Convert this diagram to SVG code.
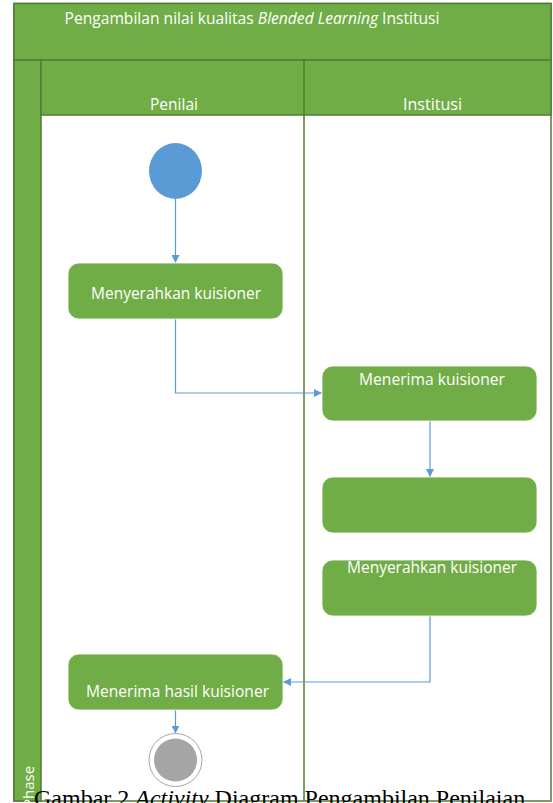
<svg xmlns="http://www.w3.org/2000/svg" width="553" height="803" viewBox="0 0 553 803">
<defs>
<style>
.band{fill:#70AD47;stroke:#507E32;stroke-width:1.5}
.lane{fill:#FFFFFF;stroke:#507E32;stroke-width:1.5}
.act{fill:#70AD47;stroke:#FFFFFF;stroke-width:0.8}
.lbl{font-family:"Open Sans","Liberation Sans",sans-serif;font-size:15.5px;fill:#FFFFFF;text-anchor:middle}
.conn{fill:none;stroke:#5B9BD5;stroke-width:1.2}
</style>
<marker id="arr" viewBox="0 0 10 10" refX="10" refY="5" markerWidth="8" markerHeight="8" markerUnits="userSpaceOnUse" orient="auto">
<path d="M0,0 L10,5 L0,10 Z" fill="#5B9BD5"/>
</marker>
</defs>
<rect width="553" height="803" fill="#FFFFFF"/>
<g id="frame">
<rect class="lane" x="14" y="3.5" width="537" height="797.5"/>
<rect class="band" x="14" y="3.5" width="537" height="56.5"/>
<rect class="band" x="14" y="60" width="27" height="741"/>
<rect class="band" x="41" y="60" width="510" height="55"/>
<line x1="304" y1="60" x2="304" y2="801" stroke="#507E32" stroke-width="1.5"/>
<text x="64.5" y="24" font-family="'Open Sans','Liberation Sans',sans-serif" font-size="15.5" fill="#FFFFFF" textLength="375" lengthAdjust="spacingAndGlyphs">Pengambilan nilai kualitas <tspan font-style="italic">Blended Learning</tspan> Institusi</text>
<text class="lbl" x="174" y="110" textLength="48" lengthAdjust="spacingAndGlyphs">Penilai</text>
<text class="lbl" x="432.5" y="110" textLength="59" lengthAdjust="spacingAndGlyphs">Institusi</text>
<text transform="translate(33.5,808) rotate(-90)" font-family="'Open Sans','Liberation Sans',sans-serif" font-size="15" fill="#FFFFFF">Phase</text>
</g>
<g id="connectors">
<path class="conn" d="M175.5,199 L175.5,263" marker-end="url(#arr)"/>
<path class="conn" d="M175.5,319 L175.5,393 L322,393" marker-end="url(#arr)"/>
<path class="conn" d="M430,421 L430,477" marker-end="url(#arr)"/>
<path class="conn" d="M430,616 L430,682 L283,682" marker-end="url(#arr)"/>
<path class="conn" d="M175.5,710 L175.5,733.5" marker-end="url(#arr)"/>
</g>
<g id="start">
<ellipse cx="175.5" cy="171" rx="26.5" ry="28" fill="#5B9BD5"/>
</g>
<g id="a1">
<rect class="act" x="68" y="263" width="215" height="56" rx="11"/>
<text class="lbl" x="176" y="299" textLength="170" lengthAdjust="spacingAndGlyphs">Menyerahkan kuisioner</text>
</g>
<g id="a2">
<rect class="act" x="322" y="366" width="215" height="55" rx="11"/>
<text class="lbl" x="432" y="385" textLength="146" lengthAdjust="spacingAndGlyphs">Menerima kuisioner</text>
</g>
<g id="a3">
<rect class="act" x="322" y="477" width="215" height="56" rx="11"/>
</g>
<g id="a4">
<rect class="act" x="322" y="560" width="215" height="56" rx="11"/>
<text class="lbl" x="432" y="573" textLength="170" lengthAdjust="spacingAndGlyphs">Menyerahkan kuisioner</text>
</g>
<g id="a5">
<rect class="act" x="68" y="654" width="215" height="56" rx="11"/>
<text class="lbl" x="177.5" y="697" textLength="183" lengthAdjust="spacingAndGlyphs">Menerima hasil kuisioner</text>
</g>
<g id="end">
<circle cx="175.5" cy="760" r="26.5" fill="#FFFFFF" stroke="#A5A5A5" stroke-width="1"/>
<circle cx="175.5" cy="760" r="21.5" fill="#A5A5A5"/>
</g>
<text x="34" y="806" font-family="'Liberation Serif','Times New Roman',serif" font-size="24" fill="#000000">Gambar 2 <tspan font-style="italic">Activity</tspan> Diagram Pengambilan Penilaian</text>
</svg>
